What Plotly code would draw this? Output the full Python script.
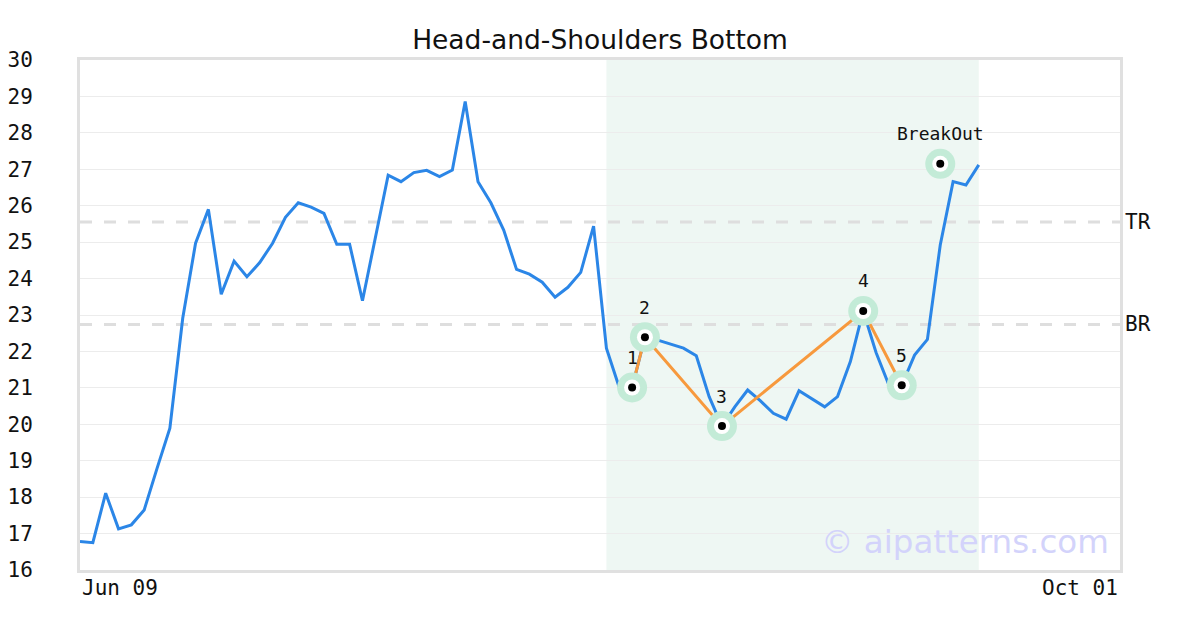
import plotly.graph_objects as go

# ---- data ----
day_index = list(range(71))
prices = [16.78, 16.75, 18.11, 17.13, 17.24, 17.65, 18.79, 19.89, 22.91, 24.97,
          25.90, 23.57, 24.48, 24.05, 24.44, 24.97, 25.68, 26.08, 25.96, 25.79,
          24.94, 24.94, 23.39, 25.10, 26.84, 26.66, 26.91, 26.97, 26.80, 26.98,
          28.86, 26.66, 26.08, 25.33, 24.25, 24.12, 23.90, 23.49, 23.76, 24.17,
          25.44, 22.09, 21.01, 21.01, 22.39, 22.31, 22.20, 22.09, 21.88, 20.76,
          19.95, 20.48, 20.94, 20.64, 20.30, 20.14, 20.92, 20.71, 20.48, 20.76,
          21.72, 23.11, 21.97, 21.08, 21.07, 21.90, 22.33, 24.92, 26.66, 26.57,
          27.12]
pattern_x = [43, 44, 50, 61, 64]
pattern_y = [21.01, 22.39, 19.95, 23.11, 21.07]
pattern_labels = ["1", "2", "3", "4", "5"]
breakout_x = [67]
breakout_y = [27.15]
breakout_label = ["BreakOut"]
tr_level = 25.55
br_level = 22.74
zone_start, zone_end = 41, 70
x_max = 81
x_tick_labels = ["Jun 09", "Oct 01"]
y_ticks = list(range(16, 31))

MONO = "DejaVu Sans Mono"
BLUE = "#2b86e7"
ORANGE = "#f7993d"
HALO = "#c3ebd7"

# page body has an 8px margin: shrink the figure to fit the 1200x630 window
W, H = 1192, 622

fig = go.Figure()

fig.add_trace(go.Scatter(x=day_index, y=prices, mode="lines",
                         line=dict(color=BLUE, width=3), hoverinfo="skip"))
fig.add_trace(go.Scatter(x=pattern_x, y=pattern_y, mode="lines",
                         line=dict(color=ORANGE, width=3), hoverinfo="skip"))

mx = pattern_x + breakout_x
my = pattern_y + breakout_y
fig.add_trace(go.Scatter(x=mx, y=my, mode="markers",
                         marker=dict(size=30, color=HALO), hoverinfo="skip"))
fig.add_trace(go.Scatter(x=mx, y=my, mode="markers",
                         marker=dict(size=16, color="white"), hoverinfo="skip"))
fig.add_trace(go.Scatter(x=mx, y=my, mode="markers",
                         marker=dict(size=8, color="black"), hoverinfo="skip"))

annotations = []
for xv, yv, t in zip(mx, my, pattern_labels + breakout_label):
    annotations.append(dict(x=xv, y=yv, text=t, showarrow=False, yshift=30,
                            font=dict(family=MONO, size=18, color="#111"),
                            xanchor="center", yanchor="middle"))
# x tick labels
annotations.append(dict(x=0, y=0, xref="x", yref="paper", text=x_tick_labels[0],
                        showarrow=False, xanchor="left", yanchor="top", yshift=-4,
                        font=dict(family=MONO, size=21, color="#111")))
annotations.append(dict(x=x_max, y=0, xref="x", yref="paper", text=x_tick_labels[1],
                        showarrow=False, xanchor="right", yanchor="top", yshift=-4,
                        font=dict(family=MONO, size=21, color="#111")))
# TR / BR labels
for lvl, t in [(tr_level, "TR"), (br_level, "BR")]:
    annotations.append(dict(x=1, y=lvl, xref="paper", yref="y", text=t,
                            showarrow=False, xanchor="left", yanchor="middle",
                            xshift=3, font=dict(family=MONO, size=21, color="#111")))
# watermark
annotations.append(dict(x=(1111 - 80) / 1040, y=(570 - 542) / 510, xref="paper", yref="paper",
                        text="© aipatterns.com", showarrow=False,
                        xanchor="right", yanchor="middle",
                        font=dict(family="DejaVu Sans", size=32.5, color="#d3d3fb")))

shapes = [
    dict(type="rect", xref="x", yref="paper", x0=zone_start, x1=zone_end, y0=0, y1=1,
         fillcolor="#eef7f3", line=dict(width=0), layer="below"),
    dict(type="line", xref="paper", yref="y", x0=0, x1=1, y0=tr_level, y1=tr_level,
         line=dict(color="#dedede", width=3, dash="12px,12px"), layer="between"),
    dict(type="line", xref="paper", yref="y", x0=0, x1=1, y0=br_level, y1=br_level,
         line=dict(color="#dedede", width=3, dash="12px,12px"), layer="between"),
]

fig.update_layout(
    width=W, height=H,
    margin=dict(l=72, r=80, t=52, b=60, autoexpand=False),
    paper_bgcolor="white", plot_bgcolor="rgba(0,0,0,0)",
    showlegend=False,
    title=dict(text="Head-and-Shoulders Bottom", x=592 / W, xanchor="center",
               y=1 - 32 / H, yanchor="middle", yref="container",
               font=dict(family="DejaVu Sans", size=26.5, color="#111")),
    xaxis=dict(range=[0, x_max], showgrid=False, zeroline=False, showticklabels=False,
               ticks="", showline=True, mirror=True, linecolor="#e0e0e0", linewidth=3,
               automargin=False),
    yaxis=dict(range=[16, 30], tickvals=y_ticks, ticktext=[str(v) for v in y_ticks],
               showgrid=True, gridcolor="#ececec", gridwidth=1, zeroline=False,
               ticks="", ticklabelstandoff=40, automargin=False,
               tickfont=dict(family=MONO, size=21, color="#111"),
               showline=True, mirror=True, linecolor="#e0e0e0", linewidth=3),
    annotations=annotations,
    shapes=shapes,
)

fig.write_html("out.html")
